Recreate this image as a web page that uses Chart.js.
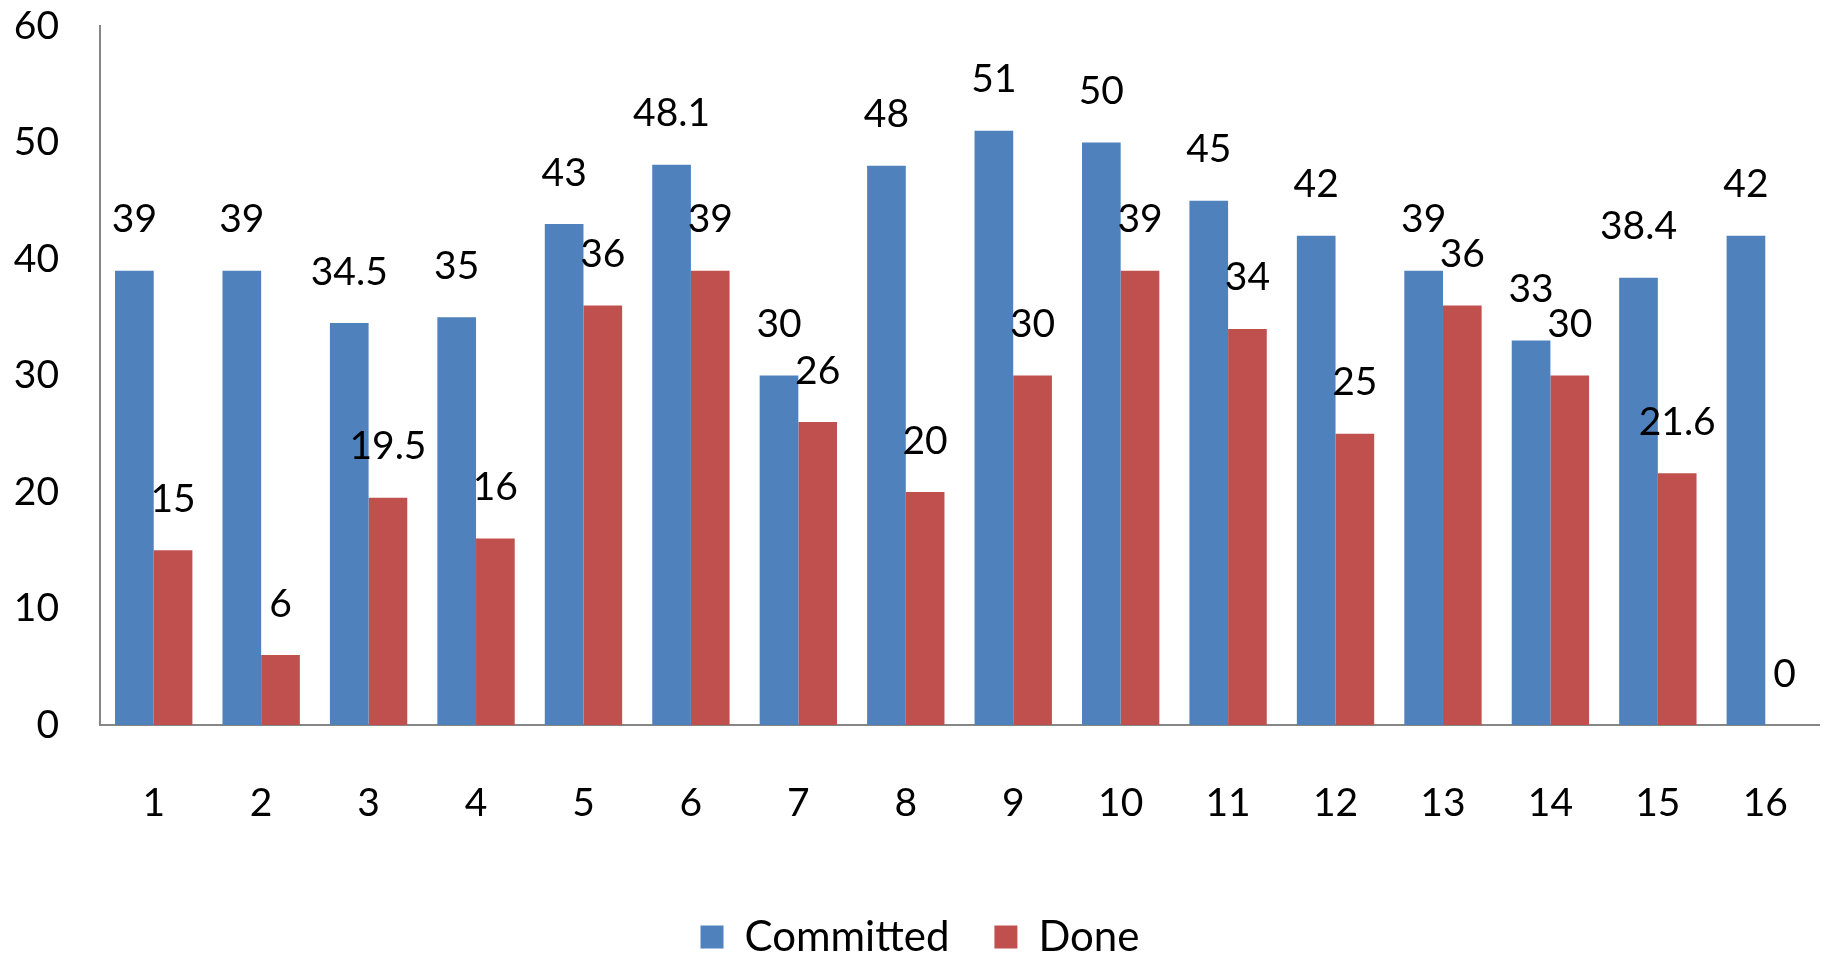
<!DOCTYPE html>
<html>
<head>
<meta charset="utf-8">
<script src="https://cdn.jsdelivr.net/npm/chart.js@4"></script>
<style>
  html, body { margin: 0; padding: 0; background: #ffffff; }
  #wrap { width: 1843px; height: 957px; position: relative; }
</style>
</head>
<body>
<div id="wrap"><canvas id="c"></canvas></div>
<script>
const categories = ["1","2","3","4","5","6","7","8","9","10","11","12","13","14","15","16"];
const committed = [39, 39, 34.5, 35, 43, 48.1, 30, 48, 51, 50, 45, 42, 39, 33, 38.4, 42];
const done = [15, 6, 19.5, 16, 36, 39, 26, 20, 30, 39, 34, 25, 36, 30, 21.6, 0];
const yTicks = [0, 10, 20, 30, 40, 50, 60];

const FONT = "Lato, 'Open Sans', sans-serif";

const valueLabels = {
  id: 'valueLabels',
  afterDatasetsDraw(chart) {
    const ctx = chart.ctx;
    ctx.save();
    ctx.font = "39px " + FONT;
    ctx.fillStyle = "#000000";
    ctx.textAlign = "center";
    ctx.textBaseline = "middle";
    chart.data.datasets.forEach((ds, di) => {
      const meta = chart.getDatasetMeta(di);
      meta.data.forEach((bar, i) => {
        ctx.fillText(String(ds.data[i]), bar.x, bar.y - 51);
      });
    });
    ctx.restore();
  }
};

new Chart(document.getElementById('c'), {
  type: 'bar',
  data: {
    labels: categories,
    datasets: [
      { label: 'Committed', data: committed, backgroundColor: '#4F81BD', borderWidth: 0 },
      { label: 'Done', data: done, backgroundColor: '#C0504D', borderWidth: 0 }
    ]
  },
  options: {
    responsive: true,
    maintainAspectRatio: false,
    animation: false,
    devicePixelRatio: 1,
    layout: { padding: { top: 26, right: 3, left: 0, bottom: -11 } },
    datasets: { bar: { categoryPercentage: 0.72, barPercentage: 1.0 } },
    plugins: {
      tooltip: { enabled: false },
      legend: {
        position: 'bottom',
        labels: {
          font: { family: FONT, size: 42 },
          color: '#000000',
          boxWidth: 23,
          boxHeight: 23,
          padding: 45
        }
      }
    },
    scales: {
      x: {
        grid: { display: false, drawTicks: false },
        border: { display: true, color: '#868686', width: 2 },
        ticks: { font: { family: FONT, size: 39 }, color: '#000000', padding: 55, maxRotation: 0 },
        afterFit(scale) { scale.height = 146; }
      },
      y: {
        min: 0, max: 60,
        afterBuildTicks(scale) { scale.ticks = yTicks.map(v => ({ value: v })); },
        grid: { display: false, drawTicks: false },
        border: { display: true, color: '#868686', width: 2 },
        ticks: { font: { family: FONT, size: 39 }, color: '#000000', padding: 41 },
        afterFit(scale) { scale.width = 100; scale.paddingTop = 0; scale.paddingBottom = 0; }
      }
    }
  },
  plugins: [valueLabels]
});
</script>
</body>
</html>
